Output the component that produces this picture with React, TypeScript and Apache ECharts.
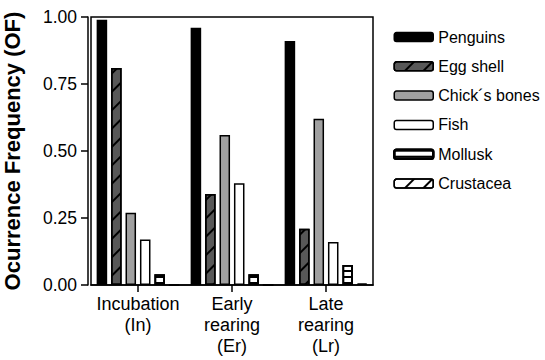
import React, { useEffect, useRef } from "react";
import * as echarts from "echarts";

const categories = ["Incubation\n(In)", "Early\nrearing\n(Er)", "Late\nrearing\n(Lr)"];
const seriesNames = ["Penguins", "Egg shell", "Chick´s bones", "Fish", "Mollusk", "Crustacea"];
const penguins = [0.99, 0.96, 0.91];
const eggShell = [0.81, 0.34, 0.21];
const chickBones = [0.27, 0.56, 0.62];
const fish = [0.17, 0.38, 0.16];
const mollusk = [0.04, 0.04, 0.075];
const crustacea = [0, 0, 0.005];
const yTicks = [0, 0.25, 0.5, 0.75, 1.0];

const FONT = "'Liberation Sans', Arial, sans-serif";

export default function App() {
  const ref = useRef<HTMLDivElement>(null);
  useEffect(() => {
    if (!ref.current) return;
    const chart = echarts.init(ref.current, null, { renderer: "svg" });
    const hatch = (color: string) => ({
      symbol: "rect",
      symbolSize: 1,
      color,
      dashArrayX: [1, 0],
      dashArrayY: [1.5, 11],
      rotation: -Math.PI / 4,
    });
    const horiz = {
      symbol: "rect",
      symbolSize: 1,
      color: "#000",
      dashArrayX: [1, 0],
      dashArrayY: [1.2, 4],
      rotation: 0,
    };
    const styles: any[] = [
      { color: "#000", borderColor: "#000", borderWidth: 1.5 },
      { color: "#585858", borderColor: "#000", borderWidth: 1.5, decal: hatch("#000") },
      { color: "#a0a0a0", borderColor: "#000", borderWidth: 1.5 },
      { color: "#fff", borderColor: "#000", borderWidth: 1.5 },
      { color: "#fff", borderColor: "#000", borderWidth: 1.8, decal: horiz },
      { color: "#fff", borderColor: "#000", borderWidth: 1.5, decal: hatch("#000") },
    ];
    const values = [penguins, eggShell, chickBones, fish, mollusk, crustacea];
    chart.setOption({
      animation: false,
      textStyle: { fontFamily: FONT, color: "#000" },
      grid: {
        left: 91,
        top: 17,
        right: 172,
        bottom: 75,
        show: true,
        borderColor: "#000",
        borderWidth: 1.5,
        backgroundColor: "transparent",
        containLabel: false,
        outerBoundsMode: "none",
      },
      legend: {
        orient: "vertical",
        left: 393,
        top: 29,
        padding: 0,
        itemWidth: 39,
        itemHeight: 9,
        itemGap: 13.3,
        selectedMode: false,
        textStyle: { fontFamily: FONT, fontSize: 16, color: "#000", lineHeight: 16 },
        data: seriesNames.map((n, i) => ({
          name: n,
          itemStyle: { borderColor: "#000", borderWidth: i === 4 ? 2.5 : 1.5 },
        })),
      },
      xAxis: {
        type: "category",
        data: categories,
        axisLine: { show: true, lineStyle: { color: "#000", width: 1.5 } },
        axisTick: { show: true, alignWithLabel: true, length: 7, lineStyle: { color: "#000", width: 1.5 } },
        axisLabel: { interval: 0, fontFamily: FONT, fontSize: 18, color: "#000", lineHeight: 21, margin: 8 },
      },
      yAxis: {
        type: "value",
        min: 0,
        max: 1,
        interval: 0.25,
        offset: 3,
        name: "Ocurrence Frequency (OF)",
        nameLocation: "middle",
        nameGap: 65,
        nameTextStyle: { fontFamily: FONT, fontSize: 22, fontWeight: "bold", color: "#000" },
        axisLine: { show: true, lineStyle: { color: "#000", width: 1.5 } },
        axisTick: { show: true, length: 7, lineStyle: { color: "#000", width: 1.5 } },
        splitLine: { show: false },
        axisLabel: {
          fontFamily: FONT,
          fontSize: 17.5,
          color: "#000",
          margin: 11,
          formatter: (v: number) => (yTicks.includes(v) ? v.toFixed(2) : ""),
        },
      },
      series: seriesNames.map((n, i) => ({
        name: n,
        type: "bar",
        data: values[i],
        barGap: "37%",
        barCategoryGap: "12%",
        itemStyle: styles[i],
      })),
    });
    return () => chart.dispose();
  }, []);
  return (
    <div
      ref={ref}
      style={{ position: "fixed", left: 0, top: 0, width: 545, height: 360, background: "#fff" }}
    />
  );
}
